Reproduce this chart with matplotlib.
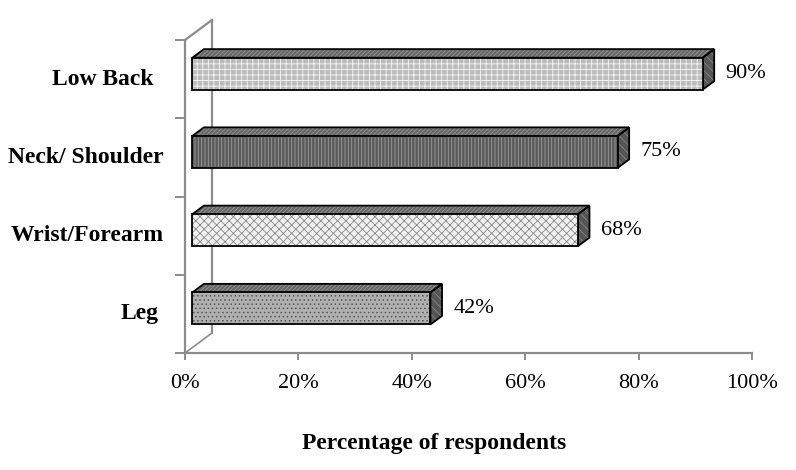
import numpy as np
import matplotlib.pyplot as plt
from matplotlib.patches import Polygon

plt.rcParams['font.family'] = ['Liberation Serif', 'DejaVu Serif']
plt.rcParams['hatch.linewidth'] = 0.6

# 데이터 (아래에서 위로)
categories = ['Leg', 'Wrist/Forearm', 'Neck/ Shoulder', 'Low Back']
values = [42, 68, 75, 90]
value_labels = ['42%', '68%', '75%', '90%']
x_ticks = [0, 20, 40, 60, 80, 100]
x_tick_labels = ['0%', '20%', '40%', '60%', '80%', '100%']
x_title = 'Percentage of respondents'

# 막대 스타일 (앞면색, 무늬, 무늬색)
front_style = [('#b0b0b0', '....', '#555555'),
               ('#f0f0f0', 'xxxx', '#8a8a8a'),
               ('#5c5c5c', '|||||', '#9a9a9a'),
               ('#bcbcbc', '+++', '#f6f6f6')]
label_shift = [-5, 0, 0, -11]     # 라벨 오른쪽 끝 위치 조정(px)

W, H = 796, 470
fig = plt.figure(figsize=(W / 100, H / 100), dpi=100)
ax_l, ax_r, ax_t, ax_b = 185, 752, 40, 353
ax = fig.add_axes([ax_l / W, (H - ax_b) / H, (ax_r - ax_l) / W, (ax_b - ax_t) / H])
ax.set_xlim(0, 100)
ax.set_ylim(0, 4)

px_x = (ax_r - ax_l) / 100.0      # x 1단위당 픽셀
px_y = (ax_b - ax_t) / 4.0        # y 1단위당 픽셀
dep_x = 27 / px_x                 # 깊이 방향 오프셋
dep_y = 20 / px_y
f0, f1 = 0.27, 0.70               # 막대 앞/뒤 깊이
bar_h = 32 / px_y

gray = '#8c8c8c'
for s in ['top', 'right']:
    ax.spines[s].set_visible(False)
for s in ['left', 'bottom']:
    ax.spines[s].set_color(gray)
    ax.spines[s].set_linewidth(1.6)
ax.set_xticks(x_ticks, x_tick_labels)
ax.set_yticks(np.arange(5), [])
ax.tick_params(axis='x', colors=gray, labelcolor='black', labelsize=16, length=5, width=1.4, pad=10)
ax.tick_params(axis='y', colors=gray, length=7, width=1.4)

# 뒷벽과 바닥 선
ax.plot([dep_x, dep_x], [dep_y, 4 + dep_y], color=gray, lw=1.6, clip_on=False)
ax.plot([0, dep_x], [0, dep_y], color=gray, lw=1.2, clip_on=False)
ax.plot([0, dep_x], [4, 4 + dep_y], color=gray, lw=1.6, clip_on=False)


def face(pts, fc, hatch, hc, zo):
    ax.add_patch(Polygon(pts, closed=True, facecolor=fc, edgecolor=hc, hatch=hatch,
                         lw=0, clip_on=False, zorder=zo))
    ax.add_patch(Polygon(pts, closed=True, facecolor='none', edgecolor='black',
                         lw=1.3, clip_on=False, zorder=zo + 0.1))


for i, (v, (fc, hatch, hc)) in enumerate(zip(values, front_style)):
    c = i + 0.5
    x0 = f0 * dep_x
    x1 = x0 + v
    yb = c - bar_h / 2 + f0 * dep_y
    yt = c + bar_h / 2 + f0 * dep_y
    bx = (f1 - f0) * dep_x
    by = (f1 - f0) * dep_y
    face([(x0, yt), (x1, yt), (x1 + bx, yt + by), (x0 + bx, yt + by)], '#666666', '////////', '#959595', 3)
    face([(x1, yb), (x1, yt), (x1 + bx, yt + by), (x1 + bx, yb + by)], '#555555', '\\\\\\\\', '#858585', 3)
    face([(x0, yb), (x1, yb), (x1, yt), (x0, yt)], fc, hatch, hc, 4)
    ax.annotate(value_labels[i], (x1, c + f0 * dep_y), xytext=(23, 0), textcoords='offset pixels',
                ha='left', va='center', fontsize=16)
    ax.annotate(categories[i], (0, c), xytext=(-21 + label_shift[i], 0), textcoords='offset pixels',
                ha='right', va='center', fontsize=17, fontweight='bold', annotation_clip=False)

fig.text(434 / W, 1 - 443 / H, x_title, ha='center', va='center', fontsize=17, fontweight='bold')

plt.savefig('out.png', dpi=100)
